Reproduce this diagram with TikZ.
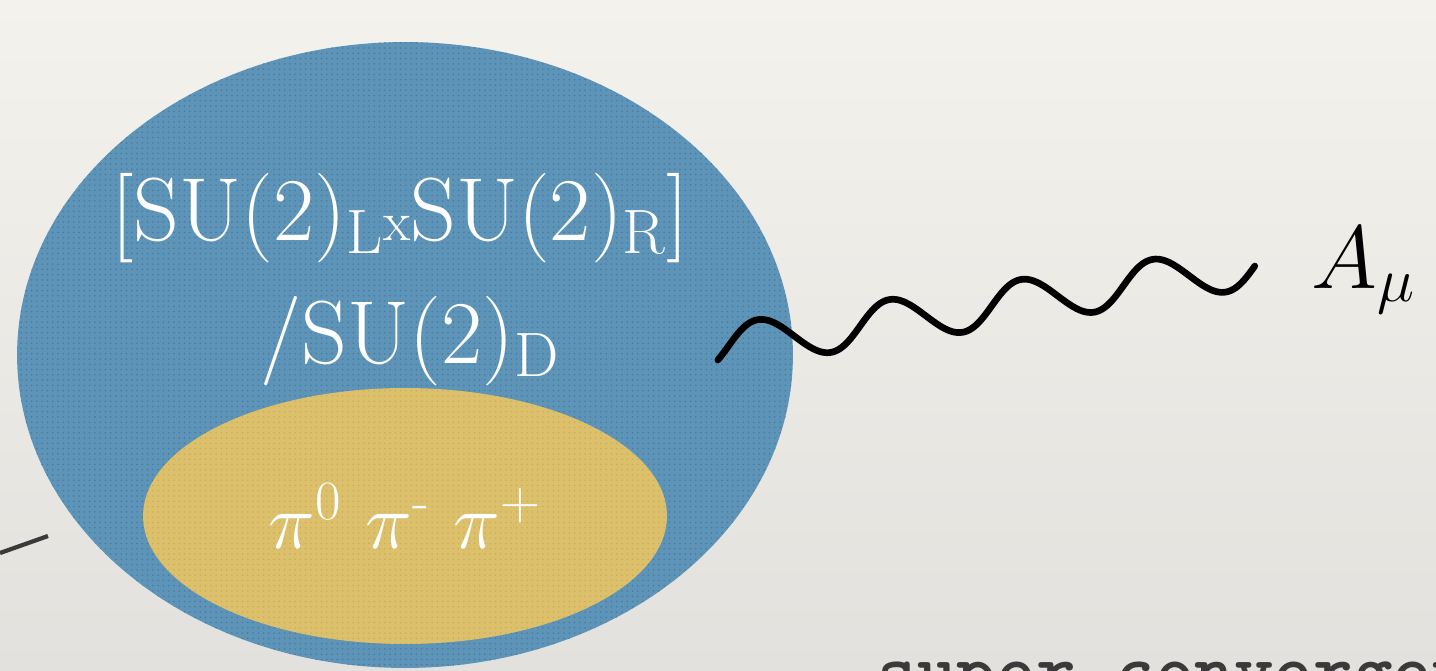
\RequirePackage{fix-cm}
\documentclass[tikz,border=0pt]{standalone}
\usepackage{fontspec}
\usetikzlibrary{shapes.geometric,patterns}
\definecolor{bgtop}{HTML}{F4F2ED}
\definecolor{bgbot}{HTML}{E3E1DD}
\definecolor{cosetblue}{HTML}{5D94B8}
\definecolor{cosetdots}{HTML}{477B9F}
\definecolor{pionyellow}{HTML}{DCC06C}
\definecolor{piondots}{HTML}{C9AD5A}
\definecolor{inkgray}{HTML}{3A3A3A}
\begin{document}
\begin{tikzpicture}[x=0.02cm, y=-0.02cm,
    whitetext/.style={text=white, inner sep=0pt, anchor=base},
    photon/.style={line width=3.8pt, line cap=round, line join=round}]
    \shade[top color=bgtop, bottom color=bgbot] (0,0) rectangle (1436,670);
    \clip (0,0) rectangle (1436,670);
    % the two blobs
    \node[ellipse, fill=cosetblue, inner sep=0pt, minimum width=15.52cm, minimum height=12.52cm,
        postaction={pattern=dots, pattern color=cosetdots}] (coset) at (405,355) {};
    \node[ellipse, fill=pionyellow, inner sep=0pt, minimum width=10.48cm, minimum height=5.12cm,
        postaction={pattern=dots, pattern color=piondots}] (pions) at (405,516) {};
    \node[whitetext, font=\fontsize{51}{60}\selectfont] (cosettop) at (400,240)
        {[SU(2)\textsubscript{L}{\fontsize{32}{32}\selectfont x}SU(2)\textsubscript{R}]};
    \node[whitetext, font=\fontsize{51}{60}\selectfont] (cosetbot) at (410,363)
        {/SU(2)\textsubscript{D}};
    \node[whitetext, font=\fontsize{45}{54}\selectfont] (pionlist) at (405,548)
        {$\pi$\textsuperscript{0} $\pi$\textsuperscript{-} $\pi$\textsuperscript{+}};
    % gauge field, a sine along the line (wstart) -- (wend)
    \coordinate (wstart) at (716,348);
    \coordinate (wend) at (1255,266);
    \draw[photon, shift={(wstart)}] plot[domain=0:545, samples=220, smooth]
        ({0.9885*\x - 3.28*sin(2.703*\x - 34)}, {-0.151*\x - 21.45*sin(2.703*\x - 34)});
    \node[inner sep=0pt, anchor=base west, font=\fontsize{51}{60}\selectfont] (amu) at (1311,288) {$A_\mu$};
    % leftovers from the slide
    \coordinate (l0) at (0,553);
    \coordinate (l1) at (48,536);
    \draw[inkgray, line width=2.4pt] (l0) -- (l1);
    \node[inner sep=0pt, anchor=base west, text=inkgray, font=\ttfamily\bfseries\fontsize{43}{43}\selectfont] (conv) at (877,695)
        {super convergence};
\end{tikzpicture}
\end{document}
